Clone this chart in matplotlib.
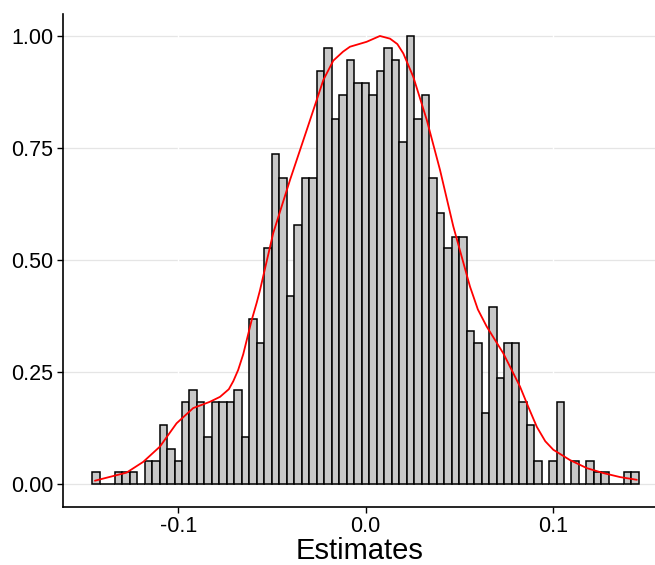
import numpy as np
import matplotlib
matplotlib.use("Agg")
import matplotlib.pyplot as plt

# histogram: 73 bins of width 0.004 starting at -0.146, counts
BIN_START = -0.146
BIN_WIDTH = 0.004
COUNTS = [
    1, 0, 0, 1, 1, 1, 0, 2, 2, 5, 3, 2, 7, 8, 7, 4, 7, 7, 7, 8,
    4, 14, 12, 20, 28, 26, 16, 22, 26, 26, 35, 37, 31, 33, 36, 34, 34, 33, 35, 37,
    36, 29, 38, 31, 33, 26, 23, 20, 21, 21, 13, 12, 6, 15, 9, 12, 12, 7, 5, 2,
    0, 2, 7, 0, 2, 0, 2, 1, 1, 0, 0, 1, 1,
]

# scaled density curve (red)
CURVE_X = [
    -0.1445, -0.1276, -0.1187, -0.1098, -0.1009, -0.0920, -0.0831, -0.0777,
    -0.0730, -0.0706, -0.0680, -0.0653, -0.0608, -0.0581, -0.0564, -0.0493,
    -0.0403, -0.0314, -0.0225, -0.0172, -0.0120, -0.0083, 0.0006, 0.0077,
    0.0131, 0.0170, 0.0202, 0.0255, 0.0327, 0.0398, 0.0469, 0.0558,
    0.0600, 0.0647, 0.0736, 0.0825, 0.0870, 0.0915, 0.0960, 0.1003,
    0.1092, 0.1182, 0.1270, 0.1360, 0.1449,
]
CURVE_Y = [
    0.008, 0.026, 0.050, 0.084, 0.136, 0.170, 0.184, 0.195,
    0.212, 0.230, 0.255, 0.290, 0.366, 0.405, 0.432, 0.560,
    0.679, 0.790, 0.902, 0.945, 0.965, 0.976, 0.987, 1.000,
    0.994, 0.982, 0.961, 0.909, 0.813, 0.701, 0.575, 0.441,
    0.390, 0.352, 0.292, 0.218, 0.172, 0.128, 0.096, 0.077,
    0.054, 0.036, 0.025, 0.016, 0.010,
]

X_TICKS = [-0.1, 0.0, 0.1]
X_TICK_LABELS = ["-0.1", "0.0", "0.1"]
Y_TICKS = [0.0, 0.25, 0.5, 0.75, 1.0]
Y_TICK_LABELS = ["0.00", "0.25", "0.50", "0.75", "1.00"]

plt.rcParams["font.family"] = ["Liberation Sans", "DejaVu Sans"]

counts = np.array(COUNTS, dtype=float)
heights = counts / counts.max()
lefts = BIN_START + BIN_WIDTH * np.arange(len(counts))

fig = plt.figure(figsize=(6.55, 5.65), dpi=100)
ax = fig.add_axes([0.0966, 0.1032, 0.9034, 0.8728])

ax.bar(lefts, heights, width=BIN_WIDTH, align="edge",
       color="#C8C8C8", edgecolor="black", linewidth=1.1, zorder=3)
ax.plot(CURVE_X, CURVE_Y, color="#FF0000", linewidth=1.3, zorder=4,
        solid_joinstyle="round", solid_capstyle="round")

# grid: light horizontal lines, broken by white vertical lines at x ticks
for y in Y_TICKS:
    ax.axhline(y, color="#E5E5E5", linewidth=0.9, zorder=1)
for x in X_TICKS:
    ax.axvline(x, color="white", linewidth=1.0, zorder=2)

ax.set_xlim(-0.1614, 0.1546)
ax.set_ylim(-0.05, 1.05)
ax.set_xticks(X_TICKS)
ax.set_xticklabels(X_TICK_LABELS)
ax.set_yticks(Y_TICKS)
ax.set_yticklabels(Y_TICK_LABELS)
ax.tick_params(axis="both", labelsize=15.5, length=4, width=1.0,
               color="black", labelcolor="black", pad=3)

for side in ["top", "right"]:
    ax.spines[side].set_visible(False)
for side in ["left", "bottom"]:
    ax.spines[side].set_linewidth(1.2)

ax.set_xlabel("Estimates", fontsize=21, labelpad=0)

fig.savefig("out.png", dpi=100)
